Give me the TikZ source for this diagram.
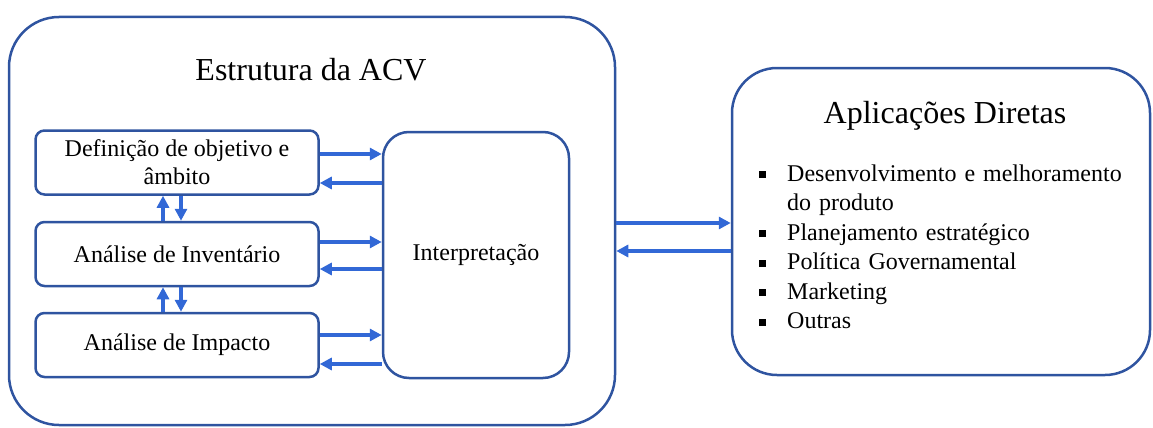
\documentclass[tikz,border=0pt]{standalone}
\usepackage{fontspec}
\setmainfont{Liberation Serif}
\usepackage{tikz}
\usetikzlibrary{arrows.meta}

\definecolor{borda}{RGB}{47,84,160}
\definecolor{azul}{RGB}{50,104,214}

\begin{document}
\begin{tikzpicture}[x=1pt,y=-1pt,
  bloco/.style={draw=borda,line width=2.5pt,rounded corners=9pt,minimum width=283pt,minimum height=64pt,inner sep=0pt,align=center,font=\fontsize{24}{28}\selectfont},
  caixa/.style={draw=borda,line width=2.5pt,inner sep=0pt},
  titulo/.style={font=\fontsize{32}{38}\selectfont,anchor=base},
  seta/.style={draw=azul,line width=3.5pt,-{Triangle[length=12pt,width=12pt]}}]
\useasboundingbox (0,0) rectangle (1153,428);
% caixa grande da ACV
\node [caixa,rounded corners=50pt,minimum width=606pt,minimum height=408pt] (acv) at (312,221) {};
\node [titulo] (titacv) at (311,80) {Estrutura da ACV};
\node [bloco] (def) at (177,162.5) {Definição de objetivo e\\âmbito};
\node [bloco] (inv) at (177,254) {Análise de Inventário};
\node [bloco] (imp) at (177,345) {Análise de Impacto};
\node [bloco,minimum width=186pt,minimum height=246pt,rounded corners=26pt] (interp) at (476,255) {Interpretação};
% caixa das aplicacoes
\node [caixa,rounded corners=45pt,minimum width=418pt,minimum height=307pt] (apl) at (941,221.5) {};
\node [titulo] (titapl) at (945,123) {Aplicações Diretas};
\node [anchor=north west,inner sep=0pt,text width=380pt,font=\fontsize{24}{29.5}\selectfont] (lista) at (759,151.5) {%
  \begin{list}{\rule[3pt]{7pt}{7pt}}{\setlength{\labelwidth}{7pt}\setlength{\labelsep}{21pt}\setlength{\leftmargin}{28pt}%
    \setlength{\itemsep}{0pt}\setlength{\parsep}{0pt}\setlength{\topsep}{0pt}\setlength{\partopsep}{0pt}}
  \item Desenvolvimento e melhoramento\newline do produto
  \item Planejamento estratégico
  \item Política Governamental
  \item Marketing
  \item Outras
  \end{list}};
% setas para a interpretacao
\draw [seta] ([yshift=8.5pt]def.east) -- ([yshift=8.5pt]def.east -| interp.west);
\draw [seta] ([yshift=-20.5pt]def.east -| interp.west) -- ([yshift=-20.5pt]def.east);
\draw [seta] ([yshift=12pt]inv.east) -- ([yshift=12pt]inv.east -| interp.west);
\draw [seta] ([yshift=-15pt]inv.east -| interp.west) -- ([yshift=-15pt]inv.east);
\draw [seta] ([yshift=10pt]imp.east) -- ([yshift=10pt]imp.east -| interp.west);
\draw [seta] ([yshift=-19pt]imp.east -| interp.west) -- ([yshift=-19pt]imp.east);
% setas entre as fases
\draw [seta] ([xshift=-14pt]inv.north) -- ([xshift=-14pt]def.south);
\draw [seta] ([xshift=4pt]def.south) -- ([xshift=4pt]inv.north);
\draw [seta] ([xshift=-14pt]imp.north) -- ([xshift=-14pt]inv.south);
\draw [seta] ([xshift=4pt]inv.south) -- ([xshift=4pt]imp.north);
% setas entre as caixas
\draw [seta] ([yshift=-2pt]acv.east) -- ([yshift=-2pt]acv.east -| apl.west);
\draw [seta] ([yshift=-30pt]acv.east -| apl.west) -- ([yshift=-30pt]acv.east);
\end{tikzpicture}
\end{document}
